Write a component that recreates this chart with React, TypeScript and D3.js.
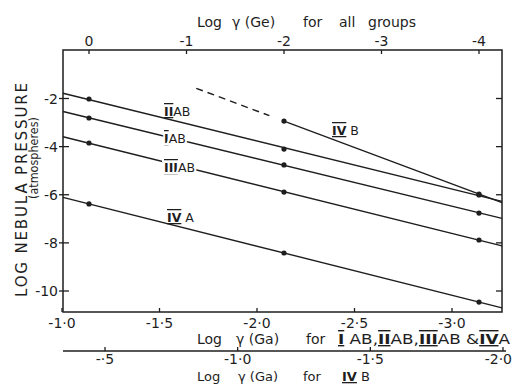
import React from "react";
import * as d3 from "d3";

const geTicks = [0, -1, -2, -3, -4];
const geTickLabels = ["0", "-1", "-2", "-3", "-4"];
const gaTicks = [-1.0, -1.5, -2.0, -2.5, -3.0];
const gaTickLabels = ["-1·0", "-1·5", "-2·0", "-2·5", "-3·0"];
const gaBTicks = [-0.5, -1.0, -1.5, -2.0];
const gaBTickLabels = ["-·5", "-1·0", "-1·5", "-2·0"];
const yTicks = [-2, -4, -6, -8, -10];
const yTickLabels = ["-2", "-4", "-6", "-8", "-10"];

const geX = [0, -2, -4];
const seriesIIAB = [-2.02, -4.1, -6.01];
const seriesIAB = [-2.81, -4.76, -6.76];
const seriesIIIAB = [-3.85, -5.89, -7.88];
const seriesIVA = [-6.38, -8.42, -10.46];
const geXIVB = [-2, -4];
const seriesIVB = [-2.94, -5.97];
const ivbDashFrom = -1.1;

const W = 513, H = 384;
const L = 63, R = 502, T = 50, B = 312;
const ink = "#1e1e1e";
const font = "'DejaVu Sans', sans-serif";

const xGe = d3.scaleLinear().domain([0, -4]).range([89, 479]);
const xGa = d3.scaleLinear().domain([-1, -3]).range([62, 452]);
const xGaB = d3.scaleLinear().domain([-0.5, -2]).range([105, 503]);
const y = d3.scaleLinear().domain([-2, -10]).range([98.5, 291]);

function fit(xs: number[], ys: number[]) {
  const n = xs.length;
  const mx = d3.mean(xs)!, my = d3.mean(ys)!;
  let num = 0, den = 0;
  for (let i = 0; i < n; i++) { num += (xs[i] - mx) * (ys[i] - my); den += (xs[i] - mx) ** 2; }
  const s = num / den;
  return (x: number) => my + s * (x - mx);
}

const line = d3.line<[number, number]>().x(d => xGe(d[0])).y(d => y(d[1]));

const geLeft = xGe.invert(L), geRight = xGe.invert(R);

function Series({ vals, xs, from }: { vals: number[]; xs: number[]; from?: number }) {
  const f = fit(xs, vals);
  const start = from ?? geLeft;
  return (
    <g>
      <path d={line([[start, f(start)], [geRight, f(geRight)]])!} fill="none" stroke={ink} strokeWidth={1.4} />
      {xs.map((x, i) => (
        <circle key={i} cx={xGe(x)} cy={y(vals[i])} r={2.6} fill={ink} />
      ))}
    </g>
  );
}

const romanStyle = { textDecoration: "underline overline" } as React.CSSProperties;

function Roman({ x, yy, num, rest, halo = true }: { x: number; yy: number; num: string; rest: string; halo?: boolean }) {
  return (
    <text x={x} y={yy} fontFamily={font} fontSize={12.5} fill={ink}
      stroke={halo ? "white" : "none"} strokeWidth={halo ? 4 : 0} style={{ paintOrder: "stroke" }}>
      <tspan style={romanStyle} fontWeight="bold">{num}</tspan>
      <tspan>{rest}</tspan>
    </text>
  );
}

export default function App() {
  const fIVB = fit(geXIVB, seriesIVB);
  return (
    <svg width={W} height={H} style={{ position: "absolute", left: 0, top: 0, background: "white" }}>
      <rect x={0} y={0} width={W} height={H} fill="white" />
      {/* box */}
      <rect x={L} y={T} width={R - L} height={B - T} fill="none" stroke={ink} strokeWidth={1.5} />
      {/* top axis */}
      {geTicks.map((t, i) => (
        <g key={i}>
          <line x1={xGe(t)} x2={xGe(t)} y1={T} y2={T + 4} stroke={ink} strokeWidth={1.3} />
          <text x={xGe(t)} y={T - 4} textAnchor="middle" fontFamily={font} fontSize={14} fill={ink}>{geTickLabels[i]}</text>
        </g>
      ))}
      <text y={27} fontFamily={font} fontSize={14} fill={ink}>
        <tspan x={197}>Log</tspan>
        <tspan x={232}>γ (Ge)</tspan>
        <tspan x={303}>for</tspan>
        <tspan x={339}>all</tspan>
        <tspan x={368}>groups</tspan>
      </text>
      {/* left & right y ticks */}
      {yTicks.map((t, i) => (
        <g key={i}>
          <line x1={L - 4} x2={L + 6} y1={y(t)} y2={y(t)} stroke={ink} strokeWidth={1.3} />
          <line x1={R - 6} x2={R} y1={y(t)} y2={y(t)} stroke={ink} strokeWidth={1.3} />
          <text x={L - 5} y={y(t) + 5} textAnchor="end" fontFamily={font} fontSize={14} fill={ink}>{yTickLabels[i]}</text>
        </g>
      ))}
      {/* y title */}
      <text transform={`translate(27,${190}) rotate(-90)`} textAnchor="middle" fontFamily={font} fontSize={15} fill={ink}
        textLength={214} lengthAdjust="spacing">LOG  NEBULA  PRESSURE</text>
      <text transform={`translate(38,${158}) rotate(-90)`} textAnchor="middle" fontFamily={font} fontSize={12} fill={ink}
        textLength={82} lengthAdjust="spacingAndGlyphs">(atmospheres)</text>
      {/* bottom Ga axis */}
      {gaTicks.map((t, i) => (
        <g key={i}>
          <line x1={xGa(t)} x2={xGa(t)} y1={B} y2={B - 4} stroke={ink} strokeWidth={1.3} />
          <text x={xGa(t)} y={B + 16} textAnchor="middle" fontFamily={font} fontSize={14} fill={ink}>{gaTickLabels[i]}</text>
        </g>
      ))}
      <text y={344} fontFamily={font} fontSize={14} fill={ink}>
        <tspan x={197}>Log</tspan>
        <tspan x={236}>γ (Ga)</tspan>
        <tspan x={306}>for</tspan>
      </text>
      <text x={338} y={344} fontFamily={font} fontSize={14} fill={ink} textLength={172} lengthAdjust="spacingAndGlyphs">
        <tspan style={romanStyle} fontWeight="bold">I</tspan> AB,
        <tspan style={romanStyle} fontWeight="bold">II</tspan>AB,
        <tspan style={romanStyle} fontWeight="bold">III</tspan>AB &amp;
        <tspan style={romanStyle} fontWeight="bold">IV</tspan>A
      </text>
      {/* second bottom axis for IVB */}
      <line x1={63} x2={506} y1={351} y2={351} stroke={ink} strokeWidth={1.3} />
      {gaBTicks.map((t, i) => {
        const last = i === gaBTicks.length - 1;
        return (
          <g key={i}>
            <line x1={xGaB(t)} x2={xGaB(t)} y1={351} y2={347} stroke={ink} strokeWidth={1.3} />
            <text x={last ? 512 : xGaB(t)} y={364} textAnchor={last ? "end" : "middle"} fontFamily={font} fontSize={14} fill={ink}>{gaBTickLabels[i]}</text>
          </g>
        );
      })}
      <text y={381} fontFamily={font} fontSize={13} fill={ink}>
        <tspan x={197}>Log</tspan>
        <tspan x={238}>γ (Ga)</tspan>
        <tspan x={303}>for</tspan>
        <tspan x={342} style={{ textDecoration: "underline" }} fontWeight="bold">IV</tspan>
        <tspan> B</tspan>
      </text>
      {/* series */}
      <Series vals={seriesIIAB} xs={geX} />
      <Series vals={seriesIAB} xs={geX} />
      <Series vals={seriesIIIAB} xs={geX} />
      <Series vals={seriesIVA} xs={geX} />
      <Series vals={seriesIVB} xs={geXIVB} from={-2} />
      <path d={line([[ivbDashFrom, fIVB(ivbDashFrom)], [-1.85, fIVB(-1.85)]])!} fill="none" stroke={ink}
        strokeWidth={1.4} strokeDasharray="7,5" />
      {/* labels */}
      <Roman x={164} yy={116} num="II" rest="AB" halo={false} />
      <Roman x={164} yy={143} num="I" rest="AB" />
      <Roman x={164} yy={172} num="III" rest="AB" />
      <Roman x={167} yy={222} num="IV" rest=" A" halo={false} />
      <Roman x={332} yy={135} num="IV" rest=" B" halo={false} />
    </svg>
  );
}
